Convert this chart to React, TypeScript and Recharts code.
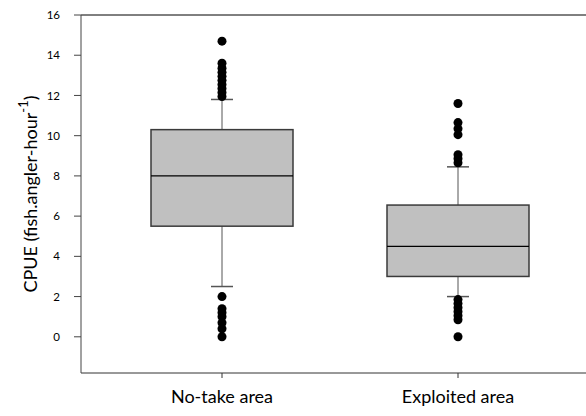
import { ComposedChart, Bar, Scatter, XAxis, YAxis, ReferenceLine, Label } from "recharts";

// CPUE per area: whiskers, quartiles and medians
const areas = ["No-take area", "Exploited area"];
const whiskerLow = [2.5, 2.0];
const quartile1 = [5.5, 3.0];
const medians = [8.0, 4.5];
const quartile3 = [10.3, 6.55];
const whiskerHigh = [11.8, 8.45];

// points beyond the whiskers
const noTakeOutliers = [0.0, 0.4, 0.7, 1.0, 1.2, 1.4, 2.0, 11.95, 12.15, 12.35, 12.55, 12.75, 12.95, 13.15, 13.35, 13.6, 14.7];
const exploitedOutliers = [0.0, 0.85, 1.05, 1.25, 1.45, 1.65, 1.85, 8.65, 8.85, 9.05, 10.05, 10.35, 10.65, 11.6];

const yTicks = [0, 2, 4, 6, 8, 10, 12, 14, 16];

const boxes = areas.map((area, i) => ({
  area,
  range: [whiskerLow[i], whiskerHigh[i]],
  q1: quartile1[i],
  median: medians[i],
  q3: quartile3[i],
}));

const outliers = [
  ...noTakeOutliers.map((cpue) => ({ area: areas[0], cpue })),
  ...exploitedOutliers.map((cpue) => ({ area: areas[1], cpue })),
];

const FONT = "Lato, 'Open Sans', sans-serif";

// bar spans the whisker range; box and median are placed inside it on the same linear scale
function BoxShape(props: any) {
  const { x, y, width, height, payload } = props;
  const [lo, hi] = payload.range;
  const toY = (v: number) => y + (height * (hi - v)) / (hi - lo);
  const cx = x + width / 2;
  const yq1 = toY(payload.q1);
  const yq3 = toY(payload.q3);
  const ym = toY(payload.median);
  const cap = 11;
  return (
    <g>
      <line x1={cx} x2={cx} y1={y} y2={yq3} stroke="#555" strokeWidth={1} />
      <line x1={cx} x2={cx} y1={yq1} y2={y + height} stroke="#555" strokeWidth={1} />
      <line x1={cx - cap} x2={cx + cap} y1={y} y2={y} stroke="#555" strokeWidth={1.5} />
      <line x1={cx - cap} x2={cx + cap} y1={y + height} y2={y + height} stroke="#555" strokeWidth={1.5} />
      <rect x={x} y={yq3} width={width} height={yq1 - yq3} fill="#c0c0c0" stroke="#3a3a3a" strokeWidth={1.5} />
      <line x1={x} x2={x + width} y1={ym} y2={ym} stroke="#000" strokeWidth={1.2} />
    </g>
  );
}

function OutlierDot(props: any) {
  const { cx, cy } = props;
  return <circle cx={cx} cy={cy} r={4.5} fill="#000" />;
}

function YTitle(props: any) {
  const { viewBox } = props;
  const cy = viewBox.y + viewBox.height / 2;
  const cx = 30;
  return (
    <text
      x={cx}
      y={cy}
      transform={`rotate(-90, ${cx}, ${cy})`}
      textAnchor="middle"
      dominantBaseline="central"
      fontFamily={FONT}
      fontSize={18}
      fill="#000"
    >
      CPUE (fish.angler-hour
      <tspan dy={-7} fontSize={13}>-1</tspan>
      <tspan dy={7}>)</tspan>
    </text>
  );
}

export default function App() {
  return (
    <div style={{ position: "absolute", left: 0, top: 0, width: 586, height: 416, background: "#fff" }}>
      <ComposedChart
        width={586}
        height={416}
        data={boxes}
        margin={{ top: 15, right: 0, bottom: 0, left: 0 }}
      >
        <XAxis
          dataKey="area"
          type="category"
          allowDuplicatedCategory={false}
          padding={{ left: 23, right: 10 }}
          height={43}
          stroke="#333"
          tickSize={5}
          tickMargin={12}
          tick={{ fill: "#000", fontSize: 18, fontFamily: FONT }}
        />
        <YAxis
          type="number"
          domain={[-1.8, 16]}
          ticks={yTicks}
          width={81}
          stroke="#444"
          tickSize={7}
          tickMargin={14}
          tick={{ fill: "#000", fontSize: 11.5, fontFamily: FONT }}
        >
          <Label content={<YTitle />} />
        </YAxis>
        <ReferenceLine y={16} stroke="#000" strokeWidth={1} />
        <Bar dataKey="range" barSize={142} shape={<BoxShape />} isAnimationActive={false} />
        <Scatter data={outliers} dataKey="cpue" shape={<OutlierDot />} isAnimationActive={false} />
      </ComposedChart>
    </div>
  );
}
